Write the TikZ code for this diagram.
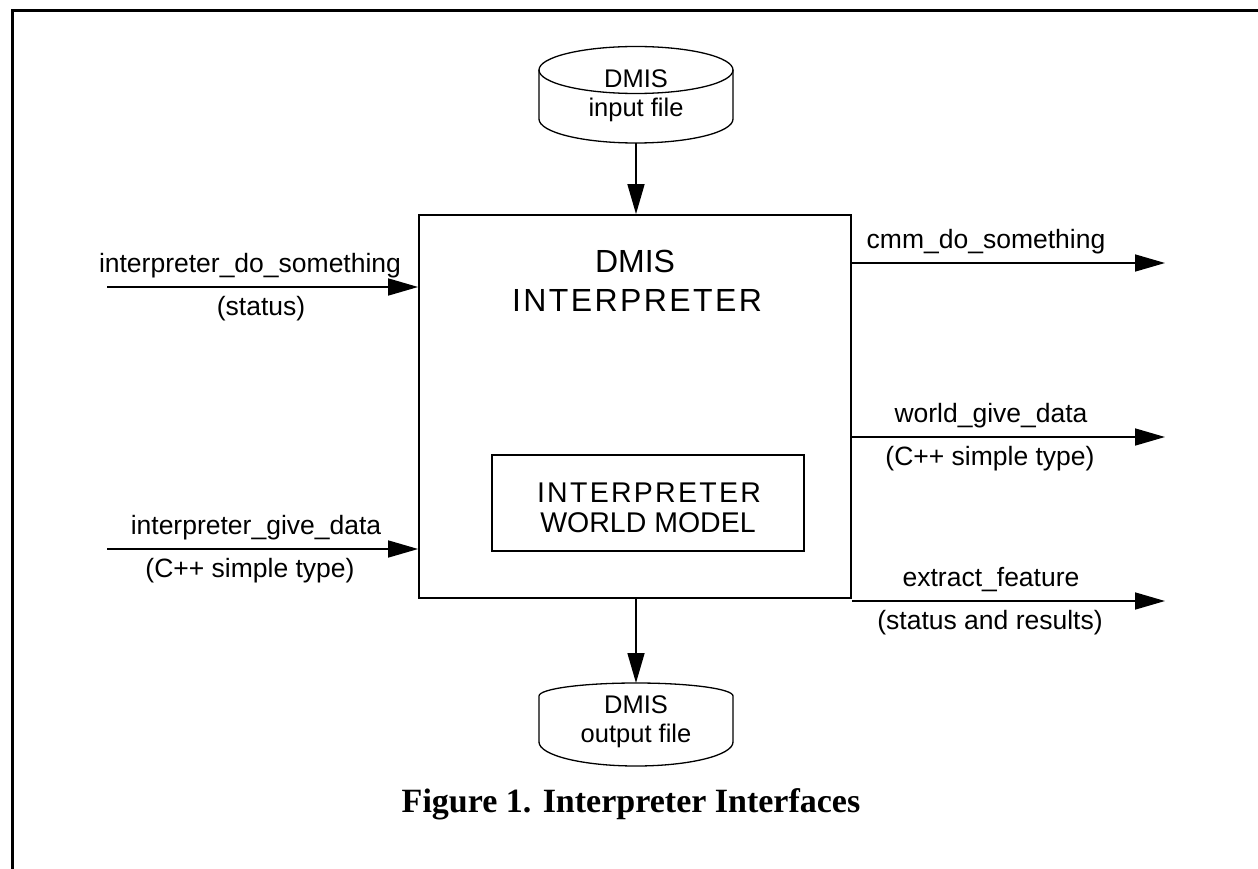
\documentclass[tikz,border=0pt]{standalone}
\usepackage{fontspec}
\setmainfont{Liberation Sans}
\newfontfamily\capfont{Liberation Serif}
\usetikzlibrary{arrows.meta}
\begin{document}
\begin{tikzpicture}[x=1pt,y=-1pt,
  arr/.style={line width=1.6pt,-{Triangle[length=30pt,width=17pt]}},
  lbl/.style={font=\fontsize{26.5}{30}\selectfont, inner sep=0pt, anchor=base},
  cyltxt/.style={font=\fontsize{25.5}{29}\selectfont, inner sep=0pt, anchor=base},
  wmtxt/.style={font=\fontsize{28.5}{30}\selectfont, inner sep=0pt, anchor=base},
  bigtxt/.style={font=\fontsize{32}{39}\selectfont, inner sep=0pt, anchor=base},
  cyl/.style={line width=1.3pt},
  boxline/.style={draw, line width=1.8pt, inner sep=0pt}]
\useasboundingbox (0,0) rectangle (1258,869);
% frame
\draw[line width=3pt] (12,869) -- (12,11) -- (1258,11);

% main box
\node[boxline, minimum width=432pt, minimum height=383pt] (main) at (635,406.5) {};
\node[bigtxt] (bigA) at (635,272) {DMIS};
\node[bigtxt] (bigB) at (637,311) {\addfontfeature{LetterSpace=7.5}INTERPRETER};

% inner world model box
\node[boxline, line width=1.5pt, minimum width=312pt, minimum height=96pt] (wm) at (648,503) {};
\node[wmtxt] (wmA) at (649,502) {\addfontfeature{LetterSpace=8}INTERPRETER};
\node[wmtxt] (wmB) at (648,532) {WORLD MODEL};

% top cylinder (input file)
\draw[cyl] (636,70) ellipse [x radius=97, y radius=23.5];
\draw[cyl] (539,70) -- (539,119) arc[start angle=180, end angle=0, x radius=97, y radius=24] -- (733,70);
\coordinate (incyl) at (636,143);
\node[cyltxt] (inA) at (636,88) {DMIS};
\node[cyltxt] (inB) at (636,117) {input file};

% bottom cylinder (output file)
\draw[cyl] (539,742) -- (539,696) arc[start angle=180, end angle=360, x radius=97, y radius=13] -- (733,742);
\draw[cyl] (539,742) arc[start angle=180, end angle=0, x radius=97, y radius=24];
\coordinate (outcyl) at (636,683);
\node[cyltxt] (outA) at (636,713) {DMIS};
\node[cyltxt] (outB) at (636,742) {output file};

% vertical arrows
\draw[arr] (incyl) -- (incyl |- main.north);
\draw[arr] (outcyl |- main.south) -- (outcyl);

% left inputs
\coordinate (L1) at (107,287);
\coordinate (L2) at (107,549);
\draw[arr] (L1) -- (L1 -| main.west);
\draw[arr] (L2) -- (L2 -| main.west);
\node[lbl] (l1a) at (250,272) {interpreter\_do\_something};
\node[lbl] (l1b) at (261,315) {(status)};
\node[lbl] (l2a) at (256,534) {interpreter\_give\_data};
\node[lbl] (l2b) at (250,577) {(C++ simple type)};

% right outputs
\coordinate (R1) at (1165,263);
\coordinate (R2) at (1165,437);
\coordinate (R3) at (1165,601);
\draw[arr] (R1 -| main.east) -- (R1);
\draw[arr] (R2 -| main.east) -- (R2);
\draw[arr] (R3 -| main.east) -- (R3);
\node[lbl] (r1a) at (986,248) {cmm\_do\_something};
\node[lbl] (r2a) at (991,422) {world\_give\_data};
\node[lbl] (r2b) at (990,465) {(C++ simple type)};
\node[lbl] (r3a) at (991,586) {extract\_feature};
\node[lbl] (r3b) at (990,629) {(status and results)};

% caption
\node[font=\capfont\bfseries\fontsize{34}{40}\selectfont, inner sep=0pt, anchor=base] (cap) at (631,812) {Figure 1. Interpreter Interfaces};
\end{tikzpicture}
\end{document}
